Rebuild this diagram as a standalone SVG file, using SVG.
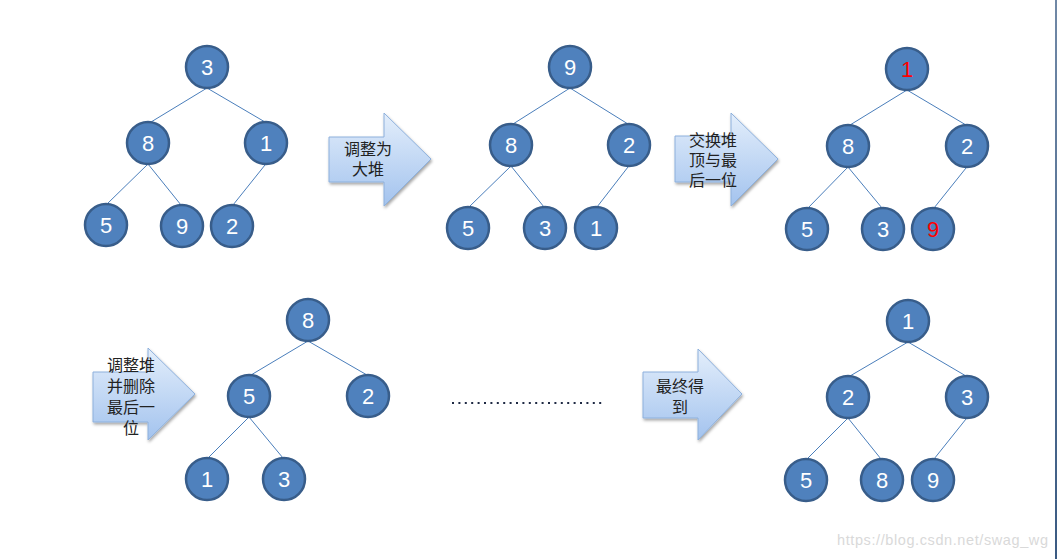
<svg xmlns="http://www.w3.org/2000/svg" width="1057" height="559" viewBox="0 0 1057 559">
<defs>
<style>
.n circle{fill:#4F81BD;stroke:#385D8A;stroke-width:2.5}
.n text{font-family:"Liberation Sans",Arial,sans-serif;font-size:22px;fill:#fff;text-anchor:middle}
.n text.r{fill:#FF0000}
.c line{stroke:#4A7EBB;stroke-width:1}
.a path{fill:url(#ag);stroke:#8DB0DC;stroke-width:1;filter:url(#sh)}
.a text{font-family:"Noto Sans CJK SC","Noto Sans CJK JP",sans-serif;font-size:16px;fill:#222;text-anchor:middle}
</style>
<linearGradient id="ag" x1="0" y1="0" x2="0" y2="1">
<stop offset="0" stop-color="#E3EEFB"/>
<stop offset="1" stop-color="#A3C3EE"/>
</linearGradient>
<linearGradient id="eg" x1="0" y1="0" x2="0" y2="1">
<stop offset="0" stop-color="#7088A6"/>
<stop offset="1" stop-color="#3A5A82"/>
</linearGradient>
<filter id="sh" x="-20%" y="-20%" width="140%" height="140%">
<feDropShadow dx="1" dy="2" stdDeviation="1.5" flood-color="#000" flood-opacity="0.35"/>
</filter>
</defs>
<rect width="1057" height="559" fill="#fff"/>
<rect x="1055" y="0" width="2" height="559" fill="url(#eg)"/>

<g id="connectors" class="c">
<line x1="207" y1="88" x2="151" y2="122"/>
<line x1="207" y1="88" x2="265" y2="122"/>
<line x1="148" y1="164" x2="107" y2="204"/>
<line x1="148" y1="164" x2="181" y2="205"/>
<line x1="265" y1="165" x2="233" y2="205"/>

<line x1="570" y1="88" x2="513" y2="124"/>
<line x1="570" y1="88" x2="628" y2="124"/>
<line x1="511" y1="166" x2="469" y2="207"/>
<line x1="511" y1="166" x2="544" y2="207"/>
<line x1="628" y1="167" x2="597" y2="207"/>

<line x1="907" y1="90" x2="850" y2="125"/>
<line x1="907" y1="90" x2="966" y2="125"/>
<line x1="848" y1="167" x2="808" y2="208"/>
<line x1="848" y1="167" x2="882" y2="208"/>
<line x1="966" y1="168" x2="934" y2="208"/>

<line x1="308" y1="341" x2="251" y2="375"/>
<line x1="308" y1="341" x2="367" y2="375"/>
<line x1="249" y1="417" x2="208" y2="458"/>
<line x1="249" y1="417" x2="283" y2="458"/>

<line x1="908" y1="342" x2="850" y2="376"/>
<line x1="908" y1="342" x2="966" y2="376"/>
<line x1="848" y1="418" x2="807" y2="459"/>
<line x1="848" y1="418" x2="881" y2="459"/>
<line x1="966" y1="419" x2="934" y2="459"/>
</g>

<g id="t1-3" class="n"><circle cx="207" cy="67" r="21"/><text x="207" y="75">3</text></g>
<g id="t1-8" class="n"><circle cx="148" cy="143" r="21"/><text x="148" y="151">8</text></g>
<g id="t1-1" class="n"><circle cx="266" cy="143" r="21"/><text x="266" y="151">1</text></g>
<g id="t1-5" class="n"><circle cx="106" cy="225" r="21"/><text x="106" y="233">5</text></g>
<g id="t1-9" class="n"><circle cx="182" cy="226" r="21"/><text x="182" y="234">9</text></g>
<g id="t1-2" class="n"><circle cx="232" cy="226" r="21"/><text x="232" y="234">2</text></g>

<g id="t2-9" class="n"><circle cx="570" cy="67" r="21"/><text x="570" y="75">9</text></g>
<g id="t2-8" class="n"><circle cx="511" cy="145" r="21"/><text x="511" y="153">8</text></g>
<g id="t2-2" class="n"><circle cx="629" cy="145" r="21"/><text x="629" y="153">2</text></g>
<g id="t2-5" class="n"><circle cx="468" cy="228" r="21"/><text x="468" y="236">5</text></g>
<g id="t2-3" class="n"><circle cx="545" cy="228" r="21"/><text x="545" y="236">3</text></g>
<g id="t2-1" class="n"><circle cx="596" cy="228" r="21"/><text x="596" y="236">1</text></g>

<g id="t3-1" class="n"><circle cx="907" cy="69" r="21"/><text class="r" x="907" y="77">1</text></g>
<g id="t3-8" class="n"><circle cx="848" cy="146" r="21"/><text x="848" y="154">8</text></g>
<g id="t3-2" class="n"><circle cx="967" cy="146" r="21"/><text x="967" y="154">2</text></g>
<g id="t3-5" class="n"><circle cx="807" cy="229" r="21"/><text x="807" y="237">5</text></g>
<g id="t3-3" class="n"><circle cx="883" cy="229" r="21"/><text x="883" y="237">3</text></g>
<g id="t3-9" class="n"><circle cx="933" cy="229" r="21"/><text class="r" x="933" y="237">9</text></g>

<g id="t4-8" class="n"><circle cx="308" cy="320" r="21"/><text x="308" y="328">8</text></g>
<g id="t4-5" class="n"><circle cx="249" cy="396" r="21"/><text x="249" y="404">5</text></g>
<g id="t4-2" class="n"><circle cx="368" cy="396" r="21"/><text x="368" y="404">2</text></g>
<g id="t4-1" class="n"><circle cx="207" cy="479" r="21"/><text x="207" y="487">1</text></g>
<g id="t4-3" class="n"><circle cx="284" cy="479" r="21"/><text x="284" y="487">3</text></g>

<g id="t5-1" class="n"><circle cx="908" cy="321" r="21"/><text x="908" y="329">1</text></g>
<g id="t5-2" class="n"><circle cx="848" cy="397" r="21"/><text x="848" y="405">2</text></g>
<g id="t5-3" class="n"><circle cx="967" cy="397" r="21"/><text x="967" y="405">3</text></g>
<g id="t5-5" class="n"><circle cx="806" cy="480" r="21"/><text x="806" y="488">5</text></g>
<g id="t5-8" class="n"><circle cx="882" cy="480" r="21"/><text x="882" y="488">8</text></g>
<g id="t5-9" class="n"><circle cx="933" cy="480" r="21"/><text x="933" y="488">9</text></g>

<g id="arrow1" class="a">
<path d="M329 137 H384 V113 L431 159 L384 206 V182 H329 Z"/>
<text><tspan x="368" y="155">调整为</tspan><tspan x="368" y="175">大堆</tspan></text>
</g>
<g id="arrow2" class="a">
<path d="M675 136 H731 V113 L778 159 L731 206 V182 H675 Z"/>
<text><tspan x="713" y="146">交换堆</tspan><tspan x="713" y="166">顶与最</tspan><tspan x="713" y="186">后一位</tspan></text>
</g>
<g id="arrow3" class="a">
<path d="M93 372 H148 V348 L195 394 L148 440 V422 H93 Z"/>
<text><tspan x="131" y="371">调整堆</tspan><tspan x="131" y="392">并删除</tspan><tspan x="131" y="413">最后一</tspan><tspan x="131" y="434">位</tspan></text>
</g>
<g id="arrow4" class="a">
<path d="M643 372 H698 V349 L742 394 L698 440 V418 H643 Z"/>
<text><tspan x="680" y="392">最终得</tspan><tspan x="680" y="413">到</tspan></text>
</g>

<line id="dots" x1="452" y1="403" x2="603" y2="403" stroke="#1F2A44" stroke-width="2" stroke-dasharray="2 4.4"/>

<text x="837" y="545" font-family="Liberation Sans,Arial,sans-serif" font-size="14.5" fill="#D9D9D9" textLength="211">https://blog.csdn.net/swag_wg</text>
</svg>
